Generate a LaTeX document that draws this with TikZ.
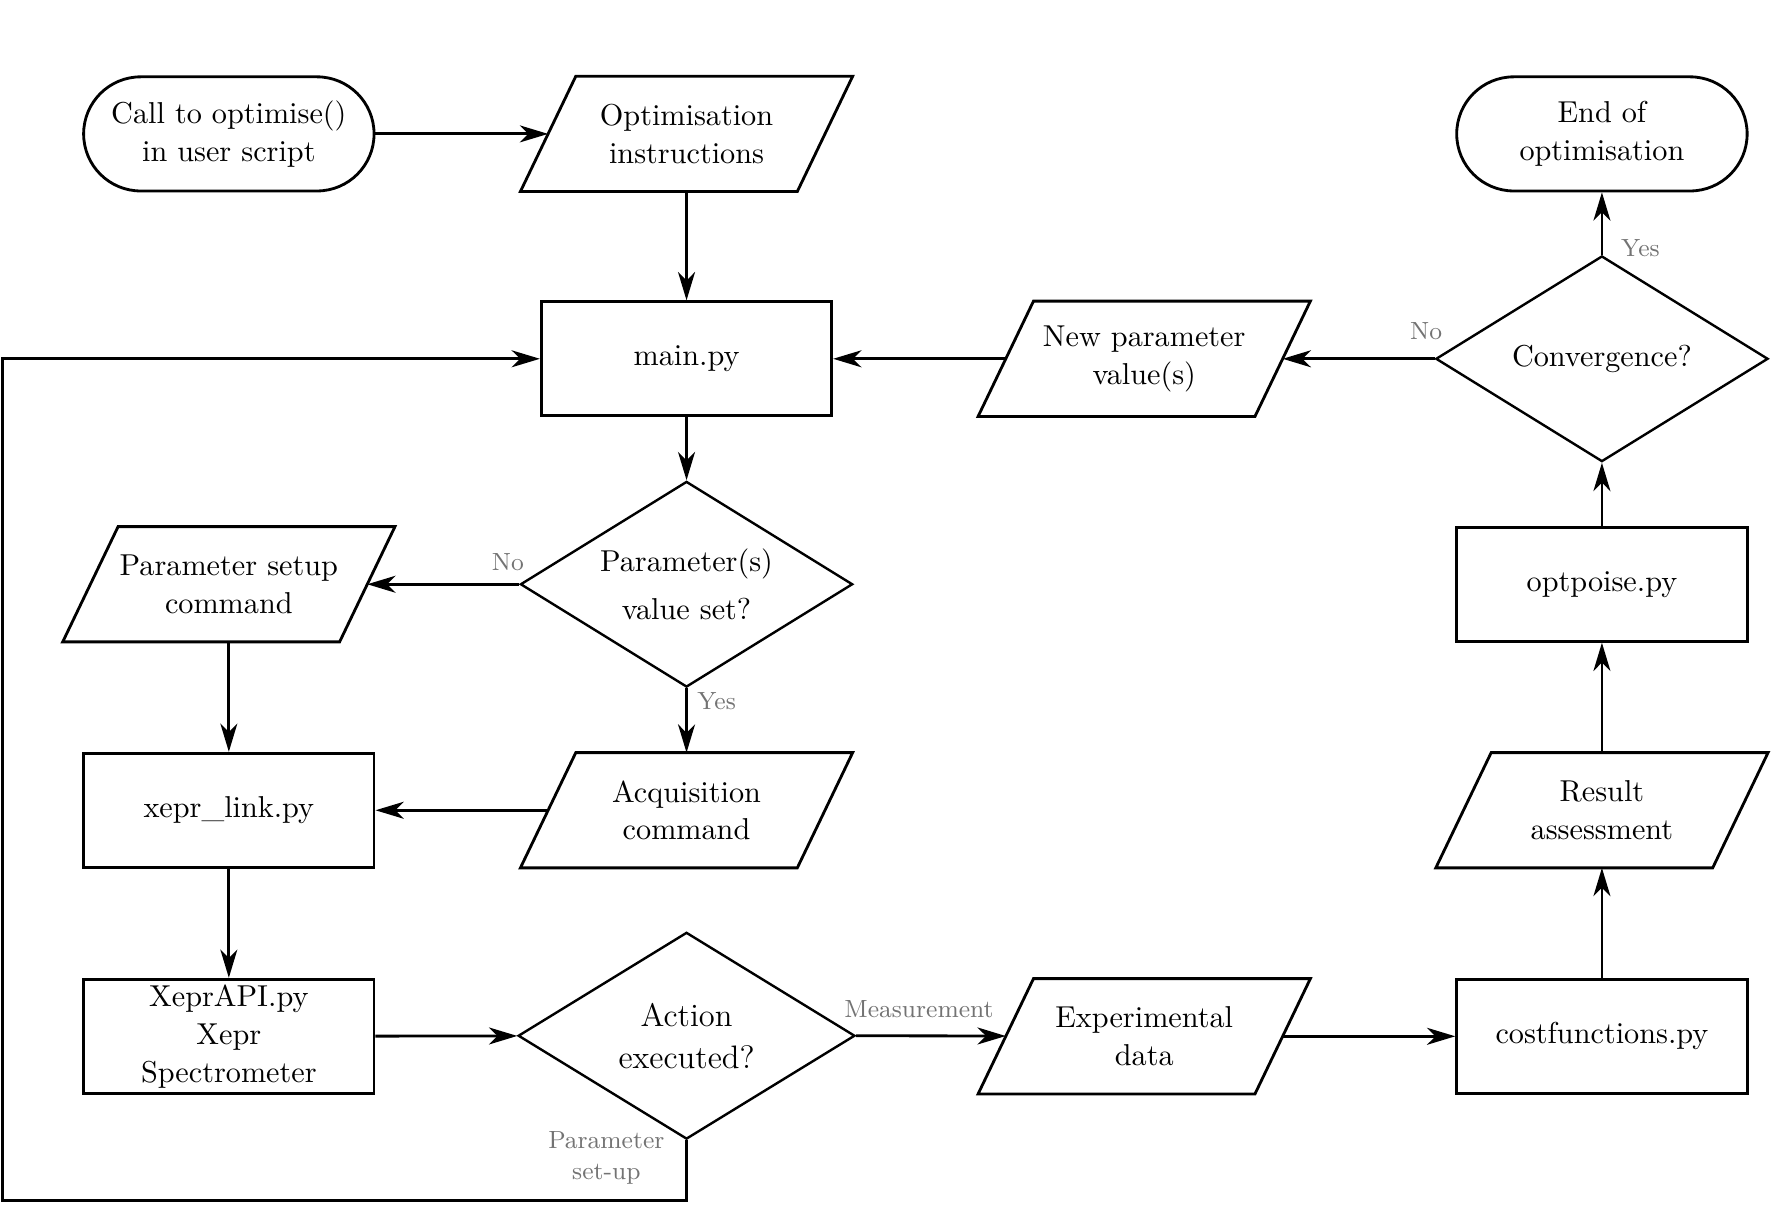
\documentclass[tikz,border=0pt]{standalone}
\usetikzlibrary{shapes.geometric,arrows.meta}
\begin{document}
\begin{tikzpicture}[x=0.4pt,y=-0.4pt,
  every node/.style={font=\fontsize{10.7}{13.4}\selectfont},
  shapeline/.style={draw=black,line width=1pt},
  procbox/.style={shapeline,minimum width=102.8pt,minimum height=40.4pt,inner sep=0pt,align=center},
  termbox/.style={shapeline,rounded corners=20.2pt,minimum width=102.8pt,minimum height=40.4pt,inner sep=0pt,align=center},
  paranode/.style={minimum width=97.6pt,minimum height=40.4pt,inner sep=0pt,align=center},
  decbox/.style={diamond,draw=black,line width=0.85pt,aspect=1.6,minimum width=117.6pt,minimum height=72.8pt,inner sep=0pt,align=center},
  lbl/.style={font=\fontsize{8.8}{11}\selectfont,text=black!55,align=center},
  arr/.style={line width=1pt,-{Stealth[length=10pt,width=6pt,inset=3pt]}},
  plain/.style={line width=1pt}
]
\newcommand{\drawpara}[1]{\draw[shapeline] ([xshift=-9.8pt]#1.south west) -- ([xshift=-9.8pt]#1.south east) -- ([xshift=9.8pt]#1.north east) -- ([xshift=9.8pt]#1.north west) -- cycle;}
\useasboundingbox (0,0) rectangle (1568,1069.8);

% nodes
\node[termbox] (start) at (202.5,118.5) {Call to optimise()\\in user script};
\node[paranode] (instr) at (607.5,118.5) {Optimisation\\instructions};
\drawpara{instr}
\node[procbox] (main) at (607.5,317.5) {main.py};
\node[decbox] (set) at (607.5,517) {Parameter(s)\\[3.4pt]value set?};
\node[paranode] (setup) at (202.5,517) {Parameter setup\\command};
\drawpara{setup}
\node[procbox] (link) at (202.5,717) {xepr\_link.py};
\node[paranode] (acq) at (607.5,717) {Acquisition\\command};
\drawpara{acq}
\node[procbox] (api) at (202.5,917) {XeprAPI.py\\Xepr\\Spectrometer};
\node[decbox,minimum width=119.2pt,minimum height=73.2pt,font=\fontsize{11.5}{14.8}\selectfont] (act) at (607.5,916.5) {Action\\executed?};
\node[paranode] (exp) at (1012.5,917) {Experimental\\data};
\drawpara{exp}
\node[procbox] (cost) at (1417.5,917) {costfunctions.py};
\node[paranode] (res) at (1417.5,717) {Result\\assessment};
\drawpara{res}
\node[procbox] (opt) at (1417.5,517) {optpoise.py};
\node[decbox] (conv) at (1417.5,317.5) {Convergence?};
\node[paranode] (newp) at (1012.5,317.5) {New parameter\\value(s)};
\drawpara{newp}
\node[termbox] (end) at (1417.5,118.5) {End of\\optimisation};

\coordinate (lb) at (2,1062);
\coordinate (lt) at (2,317.5);

% connectors
\draw[arr] (start) -- (instr);
\draw[arr] (instr) -- (main);
\draw[arr] (newp) -- (main);
\draw[arr] (main) -- (set);
\draw[arr] (set.west) -- node[lbl,pos=0,above,xshift=-4pt,yshift=1pt] {No} (setup);
\draw[arr] (set.south) -- node[lbl,pos=0.2,right] {Yes} (acq);
\draw[arr] (setup) -- (link);
\draw[arr] (acq) -- (link);
\draw[arr] (link) -- (api);
\draw[arr] (api) -- (act);
\draw[arr] (act.east) -- node[lbl,pos=0.42,above,yshift=2.5pt] {Measurement} (exp);
\draw[arr] (exp) -- (cost);
\draw[arr] (cost) -- (res);
\draw[arr] (res) -- (opt);
\draw[arr] (opt) -- (conv.south);
\draw[arr] (conv.north) -- node[lbl,pos=0.1,right,xshift=3pt] {Yes} (end);
\draw[arr] (conv.west) -- node[lbl,pos=0,above,xshift=-3pt,yshift=3pt] {No} (newp);
\draw[arr] (act.south) -- node[lbl,pos=0.3,left,xshift=-4pt] {Parameter\\set-up} (act.south |- lb) -- (lb) -- (lt) -- (main.west);
\end{tikzpicture}
\end{document}
